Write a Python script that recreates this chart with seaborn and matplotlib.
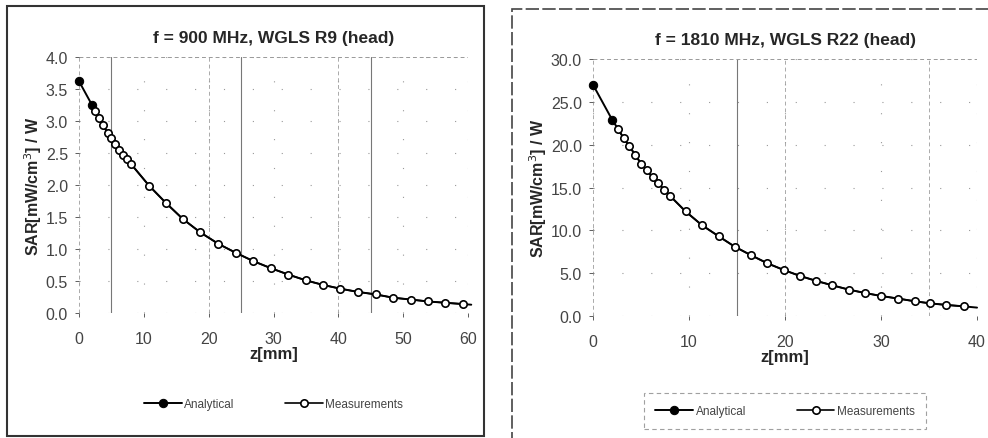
import numpy as np
import pandas as pd
import matplotlib
matplotlib.use("Agg")
import matplotlib.pyplot as plt
import seaborn as sns
from matplotlib.patches import Rectangle

# f = 900 MHz, WGLS R9
z_ana_900 = [0, 2.0, 2.5, 3.1, 3.7, 4.4, 4.9, 5.5, 6.2, 6.8, 7.4, 8.0, 10.8, 13.4, 16.0, 18.7,
             21.5, 24.2, 26.9, 29.6, 32.3, 35.0, 37.6, 40.3, 43.0, 45.8, 48.4, 51.2, 53.9,
             56.5, 59.2, 60.5]
sar_ana_900 = [3.62, 3.25, 3.15, 3.04, 2.93, 2.82, 2.73, 2.64, 2.55, 2.47, 2.40, 2.33, 1.99,
               1.72, 1.47, 1.26, 1.08, 0.94, 0.81, 0.70, 0.60, 0.51, 0.44, 0.38, 0.33, 0.29,
               0.24, 0.21, 0.18, 0.16, 0.14, 0.13]
z_meas_900 = [2.5, 3.1, 3.7, 4.4, 4.9, 5.5, 6.2, 6.8, 7.4, 8.0, 10.8, 13.4, 16.0, 18.7, 21.5,
              24.2, 26.9, 29.6, 32.3, 35.0, 37.6, 40.3, 43.0, 45.8, 48.4, 51.2, 53.9, 56.5, 59.2]
sar_meas_900 = [3.15, 3.04, 2.93, 2.82, 2.73, 2.64, 2.55, 2.47, 2.40, 2.33, 1.99, 1.72, 1.47,
                1.26, 1.08, 0.94, 0.81, 0.70, 0.60, 0.51, 0.44, 0.38, 0.33, 0.29, 0.24, 0.21,
                0.18, 0.16, 0.14]

# f = 1810 MHz, WGLS R22
z_ana_1810 = [0, 2.0, 2.6, 3.2, 3.8, 4.4, 5.0, 5.6, 6.2, 6.8, 7.4, 8.0, 9.65, 11.35, 13.1,
              14.75, 16.45, 18.15, 19.85, 21.55, 23.25, 24.9, 26.65, 28.3, 30.0, 31.8, 33.5,
              35.1, 36.8, 38.6, 40.0]
sar_ana_1810 = [27.0, 22.9, 21.85, 20.75, 19.8, 18.8, 17.8, 17.0, 16.2, 15.5, 14.75, 14.05,
                12.2, 10.6, 9.3, 8.1, 7.1, 6.16, 5.38, 4.68, 4.1, 3.59, 3.08, 2.69, 2.34,
                2.03, 1.72, 1.48, 1.29, 1.13, 0.98]
z_meas_1810 = z_ana_1810[2:-1]
sar_meas_1810 = [21.85, 20.75, 19.8, 18.8, 17.8, 17.0, 16.2, 15.5, 14.75, 14.05, 12.2, 10.6,
                 9.3, 8.1, 7.1, 6.16, 5.38, 4.68, 4.1, 3.59, 3.08, 2.69, 2.34, 2.03, 1.72,
                 1.48, 1.29, 1.13]

sns.set_theme(style="white")
plt.rcParams['font.family'] = ['Liberation Sans', 'DejaVu Sans']

fig = plt.figure(figsize=(9.88, 4.39), dpi=100)
ax1 = fig.add_axes([0.080, 0.2847, 0.3937, 0.5832])
ax2 = fig.add_axes([0.6002, 0.2779, 0.3887, 0.5854])


def draw(ax, za, sa, zm, sm, title, xmax, ymax, ystep, vsolid, vdash, leg_y, leg_frame, colsp):
    for v in vsolid:
        ax.axvline(v, color="#777777", lw=0.8, zorder=0)
    for v in vdash:
        ax.axvline(v, color="#aaaaaa", lw=0.7, ls=(0, (4, 3)), zorder=0)
    ax.axhline(0, color="#888888", lw=0.7, ls=(0, (4, 3)), zorder=0)
    ax.axhline(ymax, color="#999999", lw=0.7, ls=(0, (4, 3)), zorder=0)
    ax.grid(True, color="#999999", lw=0.8, ls=(0, (1, 25)))

    sns.lineplot(x=za, y=sa, ax=ax, color="black", lw=1.4, marker="o", markersize=6,
                 markerfacecolor="black", markeredgecolor="black", markevery=[0, 1],
                 label="Analytical", clip_on=False, zorder=3)
    sns.lineplot(x=zm, y=sm, ax=ax, color="black", lw=1.2, marker="o", markersize=5.3,
                 markerfacecolor="white", markeredgecolor="black", markeredgewidth=1.2,
                 label="Measurements", zorder=4)

    ax.set_xlim(0, xmax)
    ax.set_ylim(0, ymax)
    ticks = np.arange(0, ymax + ystep / 2, ystep)
    ax.set_yticks(ticks)
    ax.set_yticklabels([f"{t:.1f}" for t in ticks])
    ax.set_xticks(np.arange(0, xmax + 1, 10))
    ax.tick_params(axis="both", labelsize=11.5, colors="#444444", length=3, width=0.6,
                   left=True, bottom=True)
    ax.tick_params(axis="y", pad=5)
    ax.tick_params(axis="x", pad=10)
    for s in ax.spines.values():
        s.set_visible(False)
    ax.set_title(title, fontsize=12.5, fontweight="bold", pad=11)
    ax.set_xlabel("z[mm]", fontsize=12, fontweight="bold", labelpad=0)
    ax.set_ylabel("SAR[mW/cm$^3$] / W", fontsize=11.5, fontweight="bold", labelpad=1)

    leg = ax.legend(loc="center", bbox_to_anchor=(0.5, leg_y), ncol=2, fontsize=8.5,
                    frameon=leg_frame, handlelength=3.2, handletextpad=0.2,
                    columnspacing=colsp, fancybox=False, borderpad=1.0)
    if leg_frame:
        leg.get_frame().set_edgecolor("#888888")
        leg.get_frame().set_linestyle((0, (4, 3)))
        leg.get_frame().set_linewidth(0.8)
    for t in leg.get_texts():
        t.set_color("#444444")


draw(ax1, z_ana_900, sar_ana_900, z_meas_900, sar_meas_900,
     "f = 900 MHz, WGLS R9 (head)", 60, 4.0, 0.5, [5, 25, 45], [0, 20, 40, 60], -0.355,
     False, 4.3)
draw(ax2, z_ana_1810, sar_ana_1810, z_meas_1810, sar_meas_1810,
     "f = 1810 MHz, WGLS R22 (head)", 40, 30.0, 5.0, [15], [0, 20, 35, 40], -0.37,
     True, 4.3)

fig.patches.append(Rectangle((7 / 988, 1 - 437 / 439), 477 / 988, 430 / 439,
                             transform=fig.transFigure, fill=False, ec="#333333", lw=1.5))
fig.patches.append(Rectangle((512 / 988, -0.01), 0.5, 1 - 10 / 439 + 0.01,
                             transform=fig.transFigure, fill=False, ec="#444444", lw=1.2,
                             ls=(0, (8, 2))))

fig.savefig("out.png", dpi=100)
